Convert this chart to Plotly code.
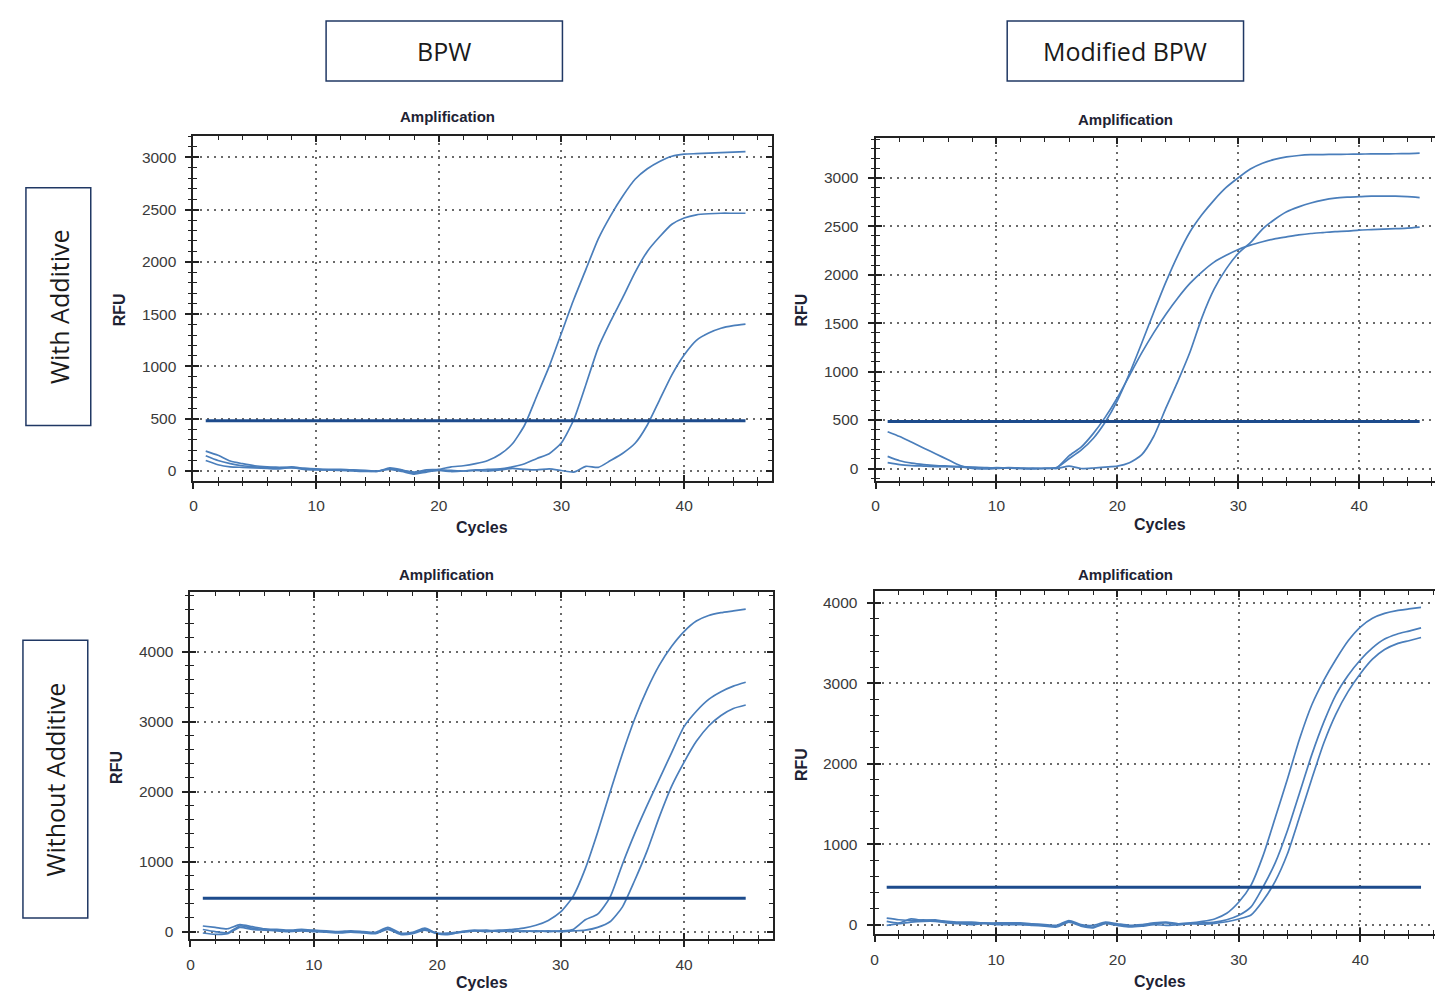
import plotly.graph_objects as go

W, H = 1435, 993

def fx(p):
    return p / W

def fy(p):
    return 1 - p / H

cycles = list(range(1, 46))

# ---- BPW, with additive (top-left)
tl_a = [190, 150, 95, 70, 50, 40, 35, 30, 25, 20, 15, 15, 10, 5, 0, 20, 5, -10, 10, 15,
        40, 50, 70, 100, 160, 260, 440, 720, 1000, 1320, 1640, 1930, 2220, 2440, 2630,
        2790, 2890, 2960, 3010, 3030, 3035, 3040, 3045, 3050, 3055]
tl_b = [145, 100, 70, 50, 40, 35, 30, 40, 25, 15, 10, 10, 5, 0, -5, 30, 10, -20, 0, 10, 5, 0,
        10, 15, 20, 40, 70, 120, 165, 270, 490, 830, 1180, 1430, 1660, 1900, 2100, 2240,
        2360, 2420, 2450, 2460, 2465, 2465, 2465]
tl_c = [100, 60, 40, 35, 30, 25, 20, 35, 15, 10, 10, 5, 0, -5, 0, 15, -5, -30, -10, 5, -5, 0,
        5, 0, 10, 25, 15, 10, 20, 5, -10, 45, 35, 100, 170, 265, 440, 680, 920, 1110, 1250,
        1320, 1365, 1390, 1405]
tl_threshold = 480

# ---- Modified BPW, with additive (top-right)
tr_p = [60, 40, 30, 25, 20, 20, 15, 10, 5, 10, 5, 0, 5, 0, 10,
        100, 190, 310, 480, 700, 980, 1290, 1610, 1920, 2200, 2440, 2620, 2770, 2900, 3000,
        3090, 3150, 3190, 3215, 3230, 3238, 3240, 3242, 3243, 3245, 3246, 3247, 3248, 3250, 3255]
tr_q = [380, 330, 270, 210, 150, 90, 30, 0, -5, 0, 5, 0, -5, 0, 10,
        130, 220, 360, 530, 730, 960, 1190, 1400, 1590, 1760, 1910, 2030, 2130, 2200, 2260,
        2305, 2340, 2370, 2390, 2410, 2425, 2435, 2445, 2450, 2460, 2465, 2470, 2475, 2480, 2490]
tr_r = [125, 80, 55, 40, 30, 25, 20, 15, 10, 5, 10, 5, 0, 5, 0,
        25, 0, 5, 15, 25, 60, 140, 330, 620, 900, 1200, 1560, 1850, 2060, 2220,
        2330, 2470, 2570, 2650, 2700, 2740, 2770, 2790, 2800, 2805, 2810, 2810, 2810, 2805, 2795]
tr_threshold = 485

# ---- BPW, without additive (bottom-left)
bl_x = [80, 60, 40, 100, 70, 40, 30, 20, 30, 20, 10, 0, 10, 0, -10, 60, -20, -10, 50, -30, -40,
        0, 20, 10, 20, 30, 50, 90, 160, 280, 500, 900, 1420, 1990, 2540, 3040, 3460, 3810,
        4080, 4290, 4440, 4520, 4560, 4585, 4610]
bl_y = [30, 0, -20, 80, 50, 30, 20, 10, 20, 10, 0, -10, 0, -10, -20, 40, -30, -20, 30, -20, -30,
        -10, 10, 20, 0, 10, 0, 10, 0, 10, 30, 170, 250, 490, 960, 1400, 1800, 2180, 2560,
        2930, 3150, 3320, 3430, 3510, 3565]
bl_z = [-20, -40, -30, 60, 30, 20, 10, 0, 10, 0, -10, -20, -10, -20, -30, 30, -40, -30, 20, -30,
        -20, 0, 10, 0, 10, 0, 10, 0, 10, 0, 10, 20, 60, 140, 350, 730, 1150, 1640, 2080, 2420,
        2720, 2940, 3090, 3190, 3240]
bl_threshold = 475

# ---- Modified BPW, without additive (bottom-right)
br_u = [80, 60, 50, 60, 50, 40, 30, 30, 20, 20, 20, 20, 10, 0, -10, 50, 0, -10, 30, 10, -10, 0,
        20, 30, 10, 20, 40, 70, 140, 280, 490, 860, 1330, 1810, 2310, 2730, 3040, 3300, 3530,
        3700, 3810, 3870, 3905, 3925, 3945]
br_v = [40, 20, 70, 50, 60, 30, 20, 10, 20, 10, 10, 10, 0, -10, -20, 40, -10, -30, 20, 0, -20,
        -10, 10, 20, 0, 10, 20, 30, 60, 115, 220, 470, 770, 1170, 1640, 2110, 2520, 2860, 3100,
        3290, 3440, 3550, 3610, 3650, 3690]
br_w = [-10, 10, 30, 40, 40, 20, 10, 0, 10, 0, 0, 0, -10, -20, -30, 30, -20, -40, 10, -10, -30,
        -20, 0, -10, 0, 10, 5, 15, 35, 70, 120, 300, 540, 880, 1340, 1810, 2260, 2620, 2900,
        3120, 3300, 3420, 3490, 3530, 3570]
br_threshold = 465

threshold_x = [1, 45]

column_labels = ["BPW", "Modified BPW"]
row_labels = ["With Additive", "Without Additive"]
panel_title = "Amplification"
x_title = "Cycles"
y_title = "RFU"

panels = [
    dict(curves=[tl_a, tl_b, tl_c], thr=tl_threshold, px=(190, 770), py=(136, 481),
         xr=[0, 47.15], yr=[-91, 3205], ydt=500, ymin=100, right=False,
         title=(445, 117), xt=(479, 528), yt=(116, 310)),
    dict(curves=[tr_p, tr_q, tr_r], thr=tr_threshold, px=(874, 1435), py=(138, 481),
         xr=[0, 46.27], yr=[-124, 3412], ydt=500, ymin=100, right=True,
         title=(1125, 120), xt=(1159, 525), yt=(800, 310)),
    dict(curves=[bl_x, bl_y, bl_z], thr=bl_threshold, px=(187, 771), py=(593, 940),
         xr=[0, 47.2], yr=[-107, 4850], ydt=1000, ymin=200, right=False,
         title=(444, 575), xt=(479, 983), yt=(113, 768)),
    dict(curves=[br_u, br_v, br_w], thr=br_threshold, px=(873, 1435), py=(592, 935),
         xr=[0, 46.15], yr=[-118, 4143], ydt=1000, ymin=200, right=True,
         title=(1125, 575), xt=(1159, 982), yt=(799, 765)),
]

curve_color = "rgb(74,126,187)"
thr_color = "#1d4b8c"
axis_color = "#222222"
grid_color = "#6a6a6a"
tick_font = dict(family="Arial", size=15.5, color="#3a3a3a")

fig = go.Figure()
layout = dict(width=W, height=H, margin=dict(l=0, r=0, t=0, b=0),
              paper_bgcolor="white", plot_bgcolor="white", showlegend=False)
annotations = []
shapes = []

for i, p in enumerate(panels, start=1):
    j = i + 4
    xa, ya = f"x{i}", f"y{i}"
    xo, yo = f"x{j}", f"y{j}"
    for c in p["curves"]:
        fig.add_trace(go.Scatter(x=cycles, y=c, mode="lines", xaxis=xa, yaxis=ya,
                                 line=dict(color=curve_color, width=1.7, shape="spline",
                                           smoothing=0.6), hoverinfo="skip"))
    fig.add_trace(go.Scatter(x=threshold_x, y=[p["thr"], p["thr"]], mode="lines",
                             xaxis=xa, yaxis=ya, line=dict(color=thr_color, width=3),
                             hoverinfo="skip"))
    fig.add_trace(go.Scatter(x=[None], y=[None], mode="lines", xaxis=xo, yaxis=yo,
                             hoverinfo="skip"))
    xdom = [fx(p["px"][0]), fx(p["px"][1])]
    ydom = [fy(p["py"][1]), fy(p["py"][0])]
    layout[f"xaxis{i}"] = dict(
        domain=xdom, range=p["xr"], anchor=ya, showline=True, linecolor=axis_color,
        linewidth=2, mirror=True, ticks="outside", ticklen=6, tickwidth=1.5,
        tickcolor=axis_color, tickmode="linear", tick0=0, dtick=10,
        minor=dict(ticks="outside", ticklen=3, tickwidth=1.2, tickcolor=axis_color,
                   tick0=0, dtick=2, showgrid=False),
        showgrid=True, gridcolor=grid_color, gridwidth=1.5, griddash="2px,5px",
        zeroline=False, tickfont=tick_font, ticklabelstandoff=4)
    layout[f"yaxis{i}"] = dict(
        domain=ydom, range=p["yr"], anchor=xa, showline=True, linecolor=axis_color,
        linewidth=2, mirror=(not p["right"]), ticks="outside", ticklen=6, tickwidth=1.5,
        tickcolor=axis_color, tickmode="linear", tick0=0, dtick=p["ydt"],
        minor=dict(ticks="outside", ticklen=3, tickwidth=1.2, tickcolor=axis_color,
                   tick0=0, dtick=p["ymin"], showgrid=False),
        showgrid=True, gridcolor=grid_color, gridwidth=1.5, griddash="2px,5px",
        zeroline=False, tickfont=tick_font, ticklabelstandoff=6)
    layout[f"xaxis{j}"] = dict(
        domain=xdom, range=p["xr"], anchor=yo, overlaying=xa, showline=False,
        mirror="ticks", ticks="inside", ticklen=6, tickwidth=1.5, tickcolor=axis_color,
        tickmode="linear", tick0=0, dtick=10,
        minor=dict(ticks="inside", ticklen=4, tickwidth=1.2, tickcolor=axis_color,
                   tick0=0, dtick=2, showgrid=False),
        showgrid=False, zeroline=False, showticklabels=False)
    layout[f"yaxis{j}"] = dict(
        domain=ydom, range=p["yr"], anchor=xo, overlaying=ya, showline=False,
        mirror=("ticks" if not p["right"] else False), ticks="inside", ticklen=6,
        tickwidth=1.5, tickcolor=axis_color, tickmode="linear", tick0=0, dtick=p["ydt"],
        minor=dict(ticks="inside", ticklen=4, tickwidth=1.2, tickcolor=axis_color,
                   tick0=0, dtick=p["ymin"], showgrid=False),
        showgrid=False, zeroline=False, showticklabels=False)

    annotations.append(dict(text=f"<b>{panel_title}</b>", x=fx(p["title"][0]),
                            y=fy(p["title"][1]), xref="paper", yref="paper",
                            xanchor="center", yanchor="middle", showarrow=False,
                            font=dict(family="Arial", size=15, color="#1e2233")))
    annotations.append(dict(text=f"<b>{x_title}</b>", x=fx(p["xt"][0]), y=fy(p["xt"][1]),
                            xref="paper", yref="paper", xanchor="center", yanchor="middle",
                            showarrow=False,
                            font=dict(family="Arial", size=16, color="#1e2233")))
    annotations.append(dict(text=f"<b>{y_title}</b>", x=fx(p["yt"][0]), y=fy(p["yt"][1]),
                            xref="paper", yref="paper", xanchor="center", yanchor="middle",
                            textangle=-90, showarrow=False,
                            font=dict(family="Arial", size=16, color="#1e2233")))

# header boxes
box_line = dict(color="#203864", width=1.5)
col_boxes = [(323, 21, 560, 81), (1006, 21, 1243, 81)]
row_boxes = [(22, 188, 87, 426), (19, 641, 84, 919)]
for label, (x0, y0, x1, y1) in zip(column_labels, col_boxes):
    shapes.append(dict(type="rect", xref="paper", yref="paper", x0=fx(x0), x1=fx(x1),
                       y0=fy(y1), y1=fy(y0), line=box_line, fillcolor="white", layer="below"))
    annotations.append(dict(text=label, x=fx((x0 + x1) / 2), y=fy((y0 + y1) / 2),
                            xref="paper", yref="paper", xanchor="center", yanchor="middle",
                            showarrow=False,
                            font=dict(family="Open Sans", size=25, color="#1a1a1a")))
for label, (x0, y0, x1, y1) in zip(row_labels, row_boxes):
    shapes.append(dict(type="rect", xref="paper", yref="paper", x0=fx(x0), x1=fx(x1),
                       y0=fy(y1), y1=fy(y0), line=box_line, fillcolor="white", layer="below"))
    annotations.append(dict(text=label, x=fx((x0 + x1) / 2), y=fy((y0 + y1) / 2),
                            xref="paper", yref="paper", xanchor="center", yanchor="middle",
                            textangle=-90, showarrow=False,
                            font=dict(family="Open Sans", size=25, color="#1a1a1a")))

layout["annotations"] = annotations
layout["shapes"] = shapes
fig.update_layout(**layout)
fig.write_html("out.html", config={"displayModeBar": False},
               post_script="document.body.style.margin='0';document.body.style.overflow='hidden';")
